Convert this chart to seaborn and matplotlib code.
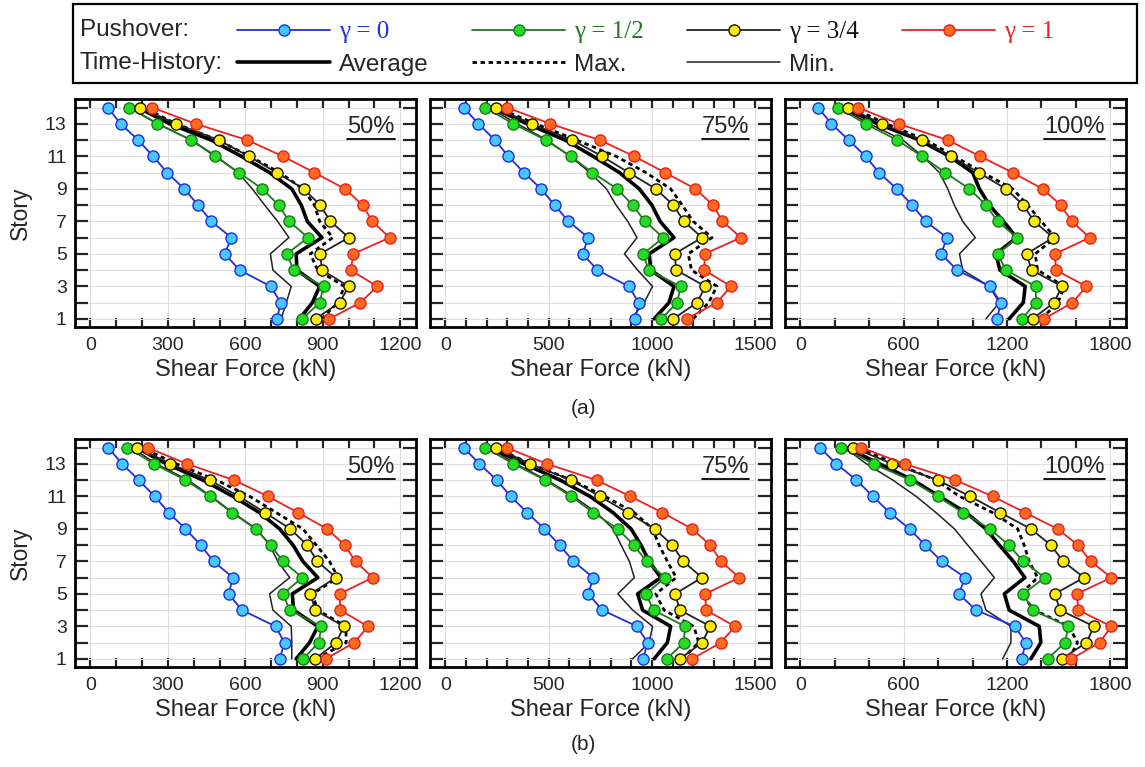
import matplotlib
matplotlib.use("Agg")
import matplotlib.pyplot as plt
import seaborn as sns
import numpy as np
import pandas as pd
from matplotlib.lines import Line2D
from matplotlib.patches import Rectangle
from matplotlib.ticker import MultipleLocator

stories = list(range(1, 15))

# ---------------- (a) ----------------
a50_g0 = [723, 737, 698, 578, 520, 546, 468, 417, 363, 297, 243, 185, 117, 68]
a50_g12 = [821, 888, 903, 787, 761, 843, 770, 729, 666, 575, 483, 391, 259, 150]
a50_g34 = [872, 965, 1001, 897, 890, 1001, 930, 890, 826, 721, 614, 497, 333, 191]
a50_g1 = [926, 1046, 1111, 1008, 1019, 1159, 1092, 1055, 986, 868, 746, 608, 408, 240]
a50_avg = [810, 860, 888, 800, 797, 897, 840, 817, 780, 694, 585, 468, 307, 185]
a50_max = [895, 959, 984, 880, 852, 939, 888, 868, 823, 733, 617, 494, 333, 204]
a50_min = [739, 759, 778, 707, 697, 769, 725, 675, 627, 572, 488, 391, 262, 152]

a75_g0 = [920, 936, 888, 736, 665, 692, 596, 529, 463, 380, 305, 240, 160, 88]
a75_g12 = [1046, 1123, 1139, 984, 958, 1056, 966, 907, 832, 712, 607, 487, 329, 193]
a75_g34 = [1104, 1219, 1259, 1118, 1110, 1243, 1155, 1104, 1019, 888, 759, 615, 417, 244]
a75_g1 = [1168, 1315, 1383, 1254, 1256, 1431, 1342, 1296, 1211, 1064, 915, 748, 508, 300]
a75_avg = [1011, 1083, 1107, 995, 987, 1107, 1040, 1000, 939, 843, 716, 580, 396, 228]
a75_max = [1200, 1275, 1315, 1192, 1176, 1291, 1200, 1147, 1091, 971, 827, 636, 436, 252]
a75_min = [900, 963, 1003, 931, 867, 928, 883, 827, 780, 700, 604, 492, 348, 212]

a100_g0 = [1142, 1165, 1101, 910, 817, 852, 727, 649, 560, 456, 379, 280, 180, 102]
a100_g12 = [1287, 1368, 1368, 1194, 1146, 1258, 1146, 1078, 982, 841, 707, 562, 379, 218]
a100_g34 = [1349, 1474, 1519, 1343, 1314, 1469, 1358, 1295, 1194, 1036, 875, 707, 473, 276]
a100_g1 = [1416, 1581, 1662, 1484, 1480, 1681, 1577, 1513, 1407, 1233, 1045, 856, 572, 334]
a100_avg = [1213, 1295, 1306, 1159, 1136, 1256, 1180, 1098, 1040, 1001, 866, 692, 450, 247]
a100_max = [1399, 1497, 1532, 1378, 1364, 1480, 1400, 1320, 1233, 1059, 895, 730, 499, 296]
a100_min = [1078, 1156, 1098, 943, 924, 1016, 943, 894, 856, 808, 711, 595, 402, 228]

# ---------------- (b) ----------------
b50_g0 = [733, 752, 717, 587, 535, 552, 477, 427, 368, 303, 249, 187, 123, 68]
b50_g12 = [823, 885, 894, 772, 746, 821, 746, 698, 640, 548, 465, 368, 246, 143]
b50_g34 = [871, 952, 982, 871, 852, 952, 879, 840, 774, 677, 575, 462, 310, 182]
b50_g1 = [911, 1023, 1075, 968, 965, 1094, 1027, 985, 917, 804, 688, 556, 374, 221]
b50_avg = [797, 849, 881, 787, 782, 881, 823, 785, 733, 655, 552, 436, 294, 178]
b50_max = [875, 991, 990, 880, 860, 960, 926, 875, 823, 720, 617, 488, 333, 197]
b50_min = [780, 780, 778, 707, 694, 772, 726, 694, 643, 552, 468, 378, 255, 159]

b75_g0 = [958, 979, 928, 760, 692, 716, 620, 553, 479, 396, 316, 249, 165, 88]
b75_g12 = [1072, 1155, 1160, 1008, 971, 1064, 974, 912, 835, 716, 609, 484, 329, 193]
b75_g34 = [1136, 1243, 1283, 1136, 1112, 1243, 1152, 1099, 1014, 883, 748, 609, 409, 244]
b75_g1 = [1195, 1334, 1403, 1262, 1259, 1423, 1335, 1283, 1195, 1051, 896, 732, 492, 296]
b75_avg = [1011, 1075, 1091, 955, 931, 1043, 987, 947, 899, 812, 700, 556, 380, 220]
b75_max = [1147, 1227, 1203, 1059, 1019, 1118, 1075, 1035, 1003, 915, 772, 612, 412, 244]
b75_min = [907, 987, 1003, 907, 835, 915, 891, 851, 812, 732, 620, 492, 340, 212]

b100_g0 = [1285, 1310, 1246, 1020, 920, 957, 821, 725, 634, 518, 421, 325, 209, 112]
b100_g12 = [1436, 1538, 1557, 1349, 1295, 1420, 1295, 1210, 1101, 943, 798, 638, 425, 238]
b100_g34 = [1519, 1662, 1706, 1509, 1478, 1648, 1527, 1455, 1339, 1161, 986, 798, 533, 305]
b100_g1 = [1575, 1739, 1807, 1615, 1606, 1807, 1687, 1613, 1494, 1306, 1117, 900, 605, 354]
b100_avg = [1339, 1397, 1388, 1213, 1185, 1304, 1237, 1156, 1078, 962, 808, 653, 460, 267]
b100_max = [1560, 1610, 1561, 1359, 1281, 1378, 1329, 1300, 1262, 1117, 924, 788, 557, 334]
b100_min = [1175, 1223, 1223, 1078, 1049, 1127, 1050, 972, 895, 788, 672, 537, 383, 257]

intensity_labels = ["50%", "75%", "100%"]
xticks_50 = [0, 300, 600, 900, 1200]
xticks_75 = [0, 500, 1000, 1500]
xticks_100 = [0, 600, 1200, 1800]

pushover_labels = ["γ = 0", "γ = 1/2", "γ = 3/4", "γ = 1"]
th_labels = ["Average", "Max.", "Min."]

rows = [
    [(a50_g0, a50_g12, a50_g34, a50_g1), (a75_g0, a75_g12, a75_g34, a75_g1), (a100_g0, a100_g12, a100_g34, a100_g1)],
    [(b50_g0, b50_g12, b50_g34, b50_g1), (b75_g0, b75_g12, b75_g34, b75_g1), (b100_g0, b100_g12, b100_g34, b100_g1)],
]
rows_th = [
    [(a50_avg, a50_max, a50_min), (a75_avg, a75_max, a75_min), (a100_avg, a100_max, a100_min)],
    [(b50_avg, b50_max, b50_min), (b75_avg, b75_max, b75_min), (b100_avg, b100_max, b100_min)],
]
col_ticks = [xticks_50, xticks_75, xticks_100]
col_minor = [100, 100, 200]

# styles
push_styles = [
    dict(color="#1f2fe0", mfc="#45c8ff", mec="#1f2fe0"),
    dict(color="#1c7a1c", mfc="#22dd22", mec="#1c7a1c"),
    dict(color="#222222", mfc="#ffec00", mec="#111111"),
    dict(color="#ee2020", mfc="#ff6a1f", mec="#e82020"),
]
label_colors = ["#1f2fe0", "#1c7a1c", "#111111", "#ee2020"]
th_styles = [
    dict(color="black", lw=2.6, ls="-"),
    dict(color="black", lw=2.0, ls=(0, (1.6, 1.3))),
    dict(color="#222222", lw=1.1, ls="-"),
]

sns.set_style("white")
plt.rcParams["font.family"] = ["Liberation Sans", "DejaVu Sans"]

fig = plt.figure(figsize=(11.45, 7.67), dpi=100)
lefts = [0.0655, 0.3755, 0.6856]
bottoms = [0.5737, 0.1304]
W, H = 0.2975, 0.2966

axes = []
pct_texts = []
for r in range(2):
    for c in range(3):
        ax = fig.add_axes([lefts[c], bottoms[r], W, H])
        axes.append(ax)
        for vals, st, lab in zip(rows[r][c], push_styles, pushover_labels):
            sns.lineplot(x=vals, y=stories, orient="y", sort=False, estimator=None,
                         ax=ax, color=st["color"], lw=1.3, marker="o", ms=8.0,
                         mfc=st["mfc"], mec=st["mec"], mew=1.0, zorder=4, label=lab)
        for vals, st, lab in zip(rows_th[r][c], th_styles, th_labels):
            sns.lineplot(x=vals, y=stories, orient="y", sort=False, estimator=None,
                         ax=ax, color=st["color"], lw=st["lw"], ls=st["ls"],
                         zorder=3, label=lab)
        if ax.get_legend() is not None:
            ax.get_legend().remove()
        xt = col_ticks[c]
        xmax = xt[-1]
        ax.set_xlim(-0.05 * xmax, 1.05 * xmax)
        ax.set_xticks(xt)
        ax.set_xticklabels([str(v) for v in xt])
        ax.xaxis.set_minor_locator(MultipleLocator(col_minor[c]))
        ax.set_ylim(0.5, 14.5)
        ax.set_yticks(stories)
        if c == 0:
            ax.set_yticklabels([str(s) if s % 2 == 1 else "" for s in stories])
            ax.set_ylabel("Story", fontsize=16.5, labelpad=9)
        else:
            ax.set_yticklabels([])
            ax.set_ylabel("")
        ax.set_xlabel("Shear Force (kN)", fontsize=17, labelpad=4)
        ax.tick_params(axis="x", which="both", direction="in", top=True, bottom=True,
                       length=6.5, width=1.6, labelsize=14, pad=7)
        ax.tick_params(axis="y", which="both", direction="in", left=True, right=True,
                       length=9.5, width=1.6, labelsize=14, pad=6)
        ax.grid(True, which="major", axis="both", color="#dddddd", lw=0.8)
        ax.set_axisbelow(True)
        for sp in ax.spines.values():
            sp.set_linewidth(2.0)
            sp.set_color("black")
        t = ax.text(0.938, 0.853, intensity_labels[c], ha="right", va="baseline",
                    transform=ax.transAxes, fontsize=17, zorder=6)
        pct_texts.append(t)

fig.text(583 / 1145, 1 - 408 / 767, "(a)", ha="center", va="center", fontsize=15)
fig.text(583 / 1145, 1 - 745 / 767, "(b)", ha="center", va="center", fontsize=15)

# legend
handles, labels = axes[0].get_legend_handles_labels()
hmap = dict(zip(labels, handles))
blank = Line2D([], [], alpha=0)
order = [("γ = 0", hmap["γ = 0"]), ("Average", hmap["Average"]),
         ("γ = 1/2", hmap["γ = 1/2"]), ("Max.", hmap["Max."]),
         ("γ = 3/4", hmap["γ = 3/4"]), ("Min.", hmap["Min."]),
         ("γ = 1", hmap["γ = 1"]), ("", blank)]
leg = fig.legend([h for _, h in order], [l for l, _ in order], ncol=4,
                 loc="upper left", bbox_to_anchor=(237 / 1145, 1 - 21 / 767),
                 frameon=False, fontsize=17.5, numpoints=1, handlelength=3.83,
                 handletextpad=0.35, columnspacing=1.8, labelspacing=0.45,
                 borderpad=0, borderaxespad=0)
gamma_color = dict(zip(pushover_labels, label_colors))
for txt in leg.get_texts():
    s = txt.get_text()
    if s in gamma_color:
        txt.set_color(gamma_color[s])
        txt.set_fontfamily(["Liberation Serif", "DejaVu Serif"])
        txt.set_fontsize(18)
fig.text(80 / 1145, 1 - 30 / 767, "Pushover:", ha="left", va="center", fontsize=17.5)
fig.text(80 / 1145, 1 - 63 / 767, "Time-History:", ha="left", va="center", fontsize=17.5)
fig.add_artist(Rectangle((73 / 1145, 1 - 83 / 767), (1137 - 73) / 1145, (83 - 4) / 767,
                         transform=fig.transFigure, fill=False, lw=1.6, edgecolor="black"))

# underline the intensity labels
fig.canvas.draw()
inv = fig.transFigure.inverted()
for t in pct_texts:
    bb = t.get_window_extent()
    (x0, y0), (x1, y1) = inv.transform([[bb.x0, bb.y0], [bb.x1, bb.y1]])
    fig.add_artist(Line2D([x0, x1], [y0 - 0.002, y0 - 0.002], transform=fig.transFigure,
                          color="black", lw=1.3))

fig.savefig("out.png", dpi=100)
